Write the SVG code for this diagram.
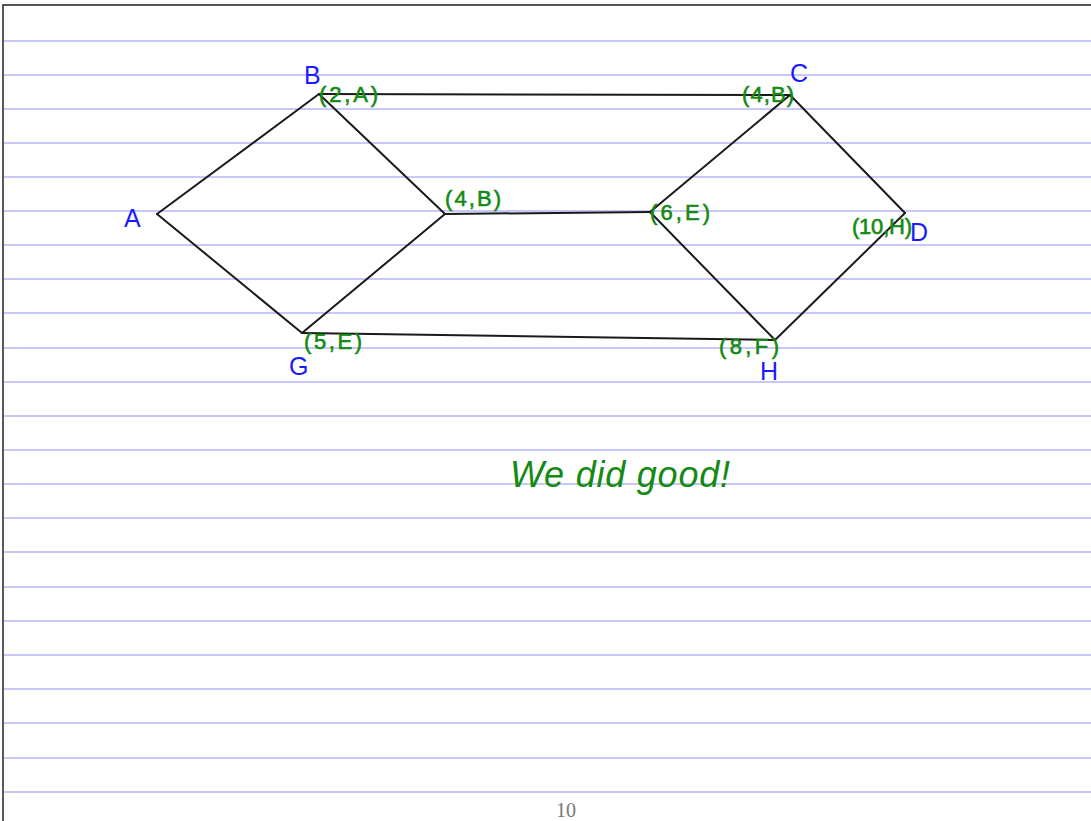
<svg xmlns="http://www.w3.org/2000/svg" width="1091" height="821" viewBox="0 0 1091 821">
<style>
.rule{stroke:#c8c8f8;stroke-width:2}
.edge{stroke:#1a1a1a;stroke-width:2;fill:none;stroke-linecap:round}
.nl{fill:#1a1aff;font-family:"Liberation Sans",sans-serif;font-size:25px}
.cl{fill:#138a13;font-family:"Liberation Sans",sans-serif;font-size:22px;stroke:#138a13;stroke-width:0.6}
.note{fill:#138a13;font-family:"Liberation Sans",sans-serif;font-size:36px;font-style:italic}
.pg{fill:#777;font-family:"Liberation Serif",serif;font-size:20px}
</style>
<rect width="1091" height="821" fill="#fff"/>
<g id="paper">
<path d="M3,821 V5 H1091" stroke="#222" stroke-width="1.5" fill="none"/>
<g class="rule">
<line x1="4" y1="41" x2="1091" y2="41"/><line x1="4" y1="75" x2="1091" y2="75"/><line x1="4" y1="109" x2="1091" y2="109"/><line x1="4" y1="143" x2="1091" y2="143"/><line x1="4" y1="177" x2="1091" y2="177"/><line x1="4" y1="211" x2="1091" y2="211"/><line x1="4" y1="245" x2="1091" y2="245"/><line x1="4" y1="279" x2="1091" y2="279"/><line x1="4" y1="313" x2="1091" y2="313"/><line x1="4" y1="348" x2="1091" y2="348"/><line x1="4" y1="382" x2="1091" y2="382"/><line x1="4" y1="416" x2="1091" y2="416"/><line x1="4" y1="450" x2="1091" y2="450"/><line x1="4" y1="484" x2="1091" y2="484"/><line x1="4" y1="518" x2="1091" y2="518"/><line x1="4" y1="552" x2="1091" y2="552"/><line x1="4" y1="587" x2="1091" y2="587"/><line x1="4" y1="621" x2="1091" y2="621"/><line x1="4" y1="655" x2="1091" y2="655"/><line x1="4" y1="689" x2="1091" y2="689"/><line x1="4" y1="723" x2="1091" y2="723"/><line x1="4" y1="758" x2="1091" y2="758"/><line x1="4" y1="792" x2="1091" y2="792"/>
</g>
<text class="pg" x="566" y="817" text-anchor="middle">10</text>
</g>
<g id="connectors">
<line class="edge" x1="157" y1="214" x2="319" y2="94"/>
<line class="edge" x1="157" y1="214" x2="302" y2="333"/>
<line class="edge" x1="319" y1="94" x2="790" y2="95"/>
<line class="edge" x1="319" y1="94" x2="445" y2="214"/>
<line class="edge" x1="445" y1="214" x2="302" y2="333"/>
<line class="edge" x1="445" y1="214" x2="650" y2="212"/>
<line class="edge" x1="650" y1="212" x2="790" y2="95"/>
<line class="edge" x1="790" y1="95" x2="905" y2="213"/>
<line class="edge" x1="905" y1="213" x2="775" y2="340"/>
<line class="edge" x1="650" y1="212" x2="775" y2="340"/>
<line class="edge" x1="302" y1="333" x2="775" y2="340"/>
</g>
<g id="node-A"><text class="nl" x="124" y="227">A</text></g>
<g id="node-B"><text class="nl" x="304" y="84">B</text><text class="cl" x="319" y="102" textLength="59">(2,A)</text></g>
<g id="node-C"><text class="nl" x="790" y="82">C</text><text class="cl" x="742" y="102" textLength="52">(4,B)</text></g>
<g id="node-E"><text class="cl" x="445" y="206" textLength="56">(4,B)</text></g>
<g id="node-F"><text class="cl" x="650" y="220" textLength="60">(6,E)</text></g>
<g id="node-D"><text class="nl" x="910" y="241">D</text><text class="cl" x="852" y="234" textLength="60">(10,H)</text></g>
<g id="node-G"><text class="nl" x="289" y="375">G</text><text class="cl" x="304" y="349" textLength="58">(5,E)</text></g>
<g id="node-H"><text class="nl" x="760" y="380">H</text><text class="cl" x="719" y="354" textLength="60">(8,F)</text></g>
<g id="note"><text class="note" x="510" y="487" textLength="220">We did  good!</text></g>
</svg>
